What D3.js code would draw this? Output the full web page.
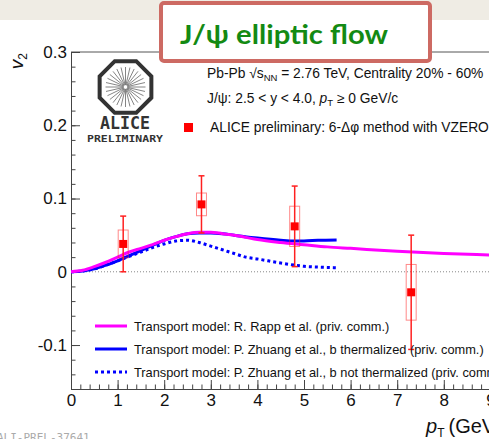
<!DOCTYPE html>
<html>
<head>
<meta charset="utf-8">
<script src="https://cdn.jsdelivr.net/npm/d3@7"></script>
<style>
  html, body { margin: 0; padding: 0; background: #fff; }
  svg { display: block; }
  text { font-family: "Liberation Sans", Arial, Helvetica, sans-serif; }
</style>
</head>
<body>
<svg id="chart" width="489" height="439"></svg>
<script>
// ALICE J/psi v2 measurement (6-delta-phi method), pT in GeV/c
const ptData   = [1.12, 2.80, 4.80, 7.30];
const v2Data   = [0.038, 0.092, 0.062, -0.028];
const statErr  = [0.038, 0.039, 0.055, 0.078];
const sysErr   = [0.019, 0.0155, 0.0275, 0.038];

// Transport model: R. Rapp et al.
const rappPt = [0, 0.25, 0.5, 0.75, 1.0, 1.25, 1.5, 1.75, 2.0, 2.25, 2.5, 2.75, 3.0, 3.25, 3.5, 3.75, 4.0, 4.5, 5.0, 5.5, 6.0, 7.0, 8.0, 9.0, 10.0];
const rappV2 = [0, 0.002, 0.007, 0.013, 0.020, 0.027, 0.032, 0.037, 0.043, 0.048, 0.052, 0.054, 0.054, 0.052, 0.050, 0.047, 0.044, 0.040, 0.037, 0.034, 0.032, 0.028, 0.025, 0.023, 0.021];

// Transport model: P. Zhuang et al., b thermalized
const zhThPt = [0, 0.25, 0.5, 0.75, 1.0, 1.25, 1.5, 1.75, 2.0, 2.25, 2.5, 2.75, 3.0, 3.25, 3.5, 4.0, 4.5, 4.8, 5.0, 5.3, 5.7];
const zhThV2 = [0, 0.001, 0.004, 0.009, 0.015, 0.022, 0.029, 0.036, 0.043, 0.048, 0.052, 0.053, 0.053, 0.052, 0.050, 0.046, 0.043, 0.042, 0.042, 0.043, 0.0435];

// Transport model: P. Zhuang et al., b not thermalized
const zhNtPt = [0, 0.25, 0.5, 0.75, 1.0, 1.25, 1.5, 1.75, 2.0, 2.25, 2.5, 2.75, 3.0, 3.25, 3.5, 3.75, 4.0, 4.5, 5.0, 5.5, 5.7];
const zhNtV2 = [0, 0.001, 0.004, 0.009, 0.015, 0.021, 0.027, 0.033, 0.038, 0.042, 0.043, 0.040, 0.035, 0.030, 0.025, 0.020, 0.0175, 0.012, 0.0075, 0.006, 0.0055];

// Axis ticks
const xMajor = [0, 1, 2, 3, 4, 5, 6, 7, 8, 9, 10];
const xLabels = ["0", "1", "2", "3", "4", "5", "6", "7", "8", "9", "10"];
const yMajor = [-0.1, 0, 0.1, 0.2, 0.3];
const yLabels = ["-0.1", "0", "0.1", "0.2", "0.3"];

const legendLabels = [
  "Transport model: R. Rapp et al. (priv. comm.)",
  "Transport model: P. Zhuang et al., b thermalized (priv. comm.)",
  "Transport model: P. Zhuang et al., b not thermalized (priv. comm.)"
];

const svg = d3.select("#chart");
const plotL = 71, plotT = 52, plotB = 389, plotR = 537;

const x = d3.scaleLinear().domain([0, 10]).range([plotL, plotR]);
const y = d3.scaleLinear().domain([-0.16, 0.3]).range([plotB, plotT]);

// Frame
svg.append("line").attr("x1", plotL).attr("x2", plotR).attr("y1", plotT).attr("y2", plotT)
  .attr("stroke", "#555").attr("stroke-width", 1);

// Zero reference line
svg.append("line").attr("x1", x(0)).attr("x2", x(10)).attr("y1", y(0)).attr("y2", y(0))
  .attr("stroke", "#888").attr("stroke-width", 1).attr("stroke-dasharray", "1,2");

// Axes
const axisColor = "#444";
function styleAxis(g) {
  g.select(".domain").attr("stroke", axisColor).attr("stroke-width", 1);
  g.selectAll(".tick line").attr("stroke", axisColor);
  g.selectAll(".tick text").attr("fill", "#111").style("font-family", "Liberation Sans, Arial, sans-serif");
}

const yMinor = d3.range(-0.16, 0.3001, 0.02).map(v => +v.toFixed(2));
svg.append("g").attr("transform", `translate(${plotL},0)`)
  .call(d3.axisLeft(y).tickValues(yMinor).tickSize(-4.5).tickFormat(""))
  .call(styleAxis);
svg.append("g").attr("transform", `translate(${plotL},0)`)
  .call(d3.axisLeft(y).tickValues(yMajor).tickSize(-9).tickPadding(4)
    .tickFormat((d, i) => yLabels[i]))
  .call(styleAxis)
  .call(g => g.selectAll(".tick text").style("font-size", "17px"));

const xMinor = d3.range(0, 10.001, 0.2).map(v => +v.toFixed(1));
svg.append("g").attr("transform", `translate(0,${plotB})`)
  .call(d3.axisBottom(x).tickValues(xMinor).tickSize(-4.5).tickFormat(""))
  .call(styleAxis);
svg.append("g").attr("transform", `translate(0,${plotB})`)
  .call(d3.axisBottom(x).tickValues(xMajor).tickSize(-9).tickPadding(5)
    .tickFormat((d, i) => xLabels[i]))
  .call(styleAxis)
  .call(g => g.selectAll(".tick text").style("font-size", "17px"));

// Axis titles
const yTitle = svg.append("text")
  .attr("transform", "translate(23,53) rotate(-90)")
  .attr("text-anchor", "end")
  .style("font-size", "19px").attr("fill", "#111");
yTitle.append("tspan").style("font-style", "italic").text("v");
yTitle.append("tspan").attr("baseline-shift", "-30%").style("font-size", "12px").text("2");

const xTitle = svg.append("text").attr("x", 426).attr("y", 433)
  .style("font-size", "20px").attr("fill", "#111");
xTitle.append("tspan").style("font-style", "italic").text("p");
xTitle.append("tspan").attr("baseline-shift", "-35%").style("font-size", "12px").text("T");
xTitle.append("tspan").attr("dx", 4).text("(GeV/c)");

// Model curves
const line = d3.line().x(d => x(d[0])).y(d => y(d[1])).curve(d3.curveMonotoneX);
const zip = (a, b) => a.map((v, i) => [v, b[i]]);

svg.append("path").datum(zip(zhNtPt, zhNtV2)).attr("d", line)
  .attr("fill", "none").attr("stroke", "#0000ff").attr("stroke-width", 3)
  .attr("stroke-dasharray", "3,3");
svg.append("path").datum(zip(zhThPt, zhThV2)).attr("d", line)
  .attr("fill", "none").attr("stroke", "#0000ff").attr("stroke-width", 3);
svg.append("path").datum(zip(rappPt, rappV2)).attr("d", line)
  .attr("fill", "none").attr("stroke", "#ff00ff").attr("stroke-width", 3);

// Data points: systematic boxes, statistical bars, markers
const pts = ptData.map((p, i) => ({ p, v: v2Data[i], s: statErr[i], sys: sysErr[i] }));
const dataG = svg.append("g");
dataG.selectAll("rect.sys").data(pts).join("rect").attr("class", "sys")
  .attr("x", d => x(d.p - 0.107)).attr("width", d => x(d.p + 0.107) - x(d.p - 0.107))
  .attr("y", d => y(d.v + d.sys)).attr("height", d => y(d.v - d.sys) - y(d.v + d.sys))
  .attr("fill", "none").attr("stroke", "rgba(255,40,40,0.55)").attr("stroke-width", 1);
dataG.selectAll("line.stat").data(pts).join("line").attr("class", "stat")
  .attr("x1", d => x(d.p)).attr("x2", d => x(d.p))
  .attr("y1", d => y(d.v + d.s)).attr("y2", d => y(d.v - d.s))
  .attr("stroke", "#ff2020").attr("stroke-width", 1.5);
[1, -1].forEach(sg => {
  dataG.selectAll("line.cap" + (sg > 0 ? "u" : "d")).data(pts).join("line")
    .attr("class", "cap" + (sg > 0 ? "u" : "d"))
    .attr("x1", d => x(d.p) - 3).attr("x2", d => x(d.p) + 3)
    .attr("y1", d => y(d.v + sg * d.s)).attr("y2", d => y(d.v + sg * d.s))
    .attr("stroke", "#ff2020").attr("stroke-width", 1.5);
});
dataG.selectAll("rect.mk").data(pts).join("rect").attr("class", "mk")
  .attr("x", d => x(d.p) - 4).attr("y", d => y(d.v) - 4)
  .attr("width", 8).attr("height", 8).attr("fill", "#ff0000");

// Legend for models
const legColors = ["#ff00ff", "#0000ff", "#0000ff"];
const legDash = [null, null, "3,3"];
legendLabels.forEach((t, i) => {
  const yy = 326 + i * 23;
  svg.append("line").attr("x1", 95).attr("x2", 127).attr("y1", yy).attr("y2", yy)
    .attr("stroke", legColors[i]).attr("stroke-width", 3)
    .attr("stroke-dasharray", legDash[i]);
  svg.append("text").attr("x", 134).attr("y", yy + 4.5)
    .style("font-size", "12.8px").attr("fill", "#111").text(t);
});

// Info text block
const info1 = svg.append("text").attr("x", 207).attr("y", 78)
  .style("font-size", "13.8px").attr("fill", "#111");
info1.append("tspan").text("Pb-Pb √s");
info1.append("tspan").attr("baseline-shift", "-30%").style("font-size", "9.5px").text("NN");
info1.append("tspan").text(" = 2.76 TeV, Centrality 20% - 60%");

const info2 = svg.append("text").attr("x", 207).attr("y", 103)
  .style("font-size", "13.8px").attr("fill", "#111");
info2.append("tspan").text("J/ψ: 2.5 < y < 4.0,  ");
info2.append("tspan").style("font-style", "italic").text("p");
info2.append("tspan").attr("baseline-shift", "-30%").style("font-size", "9.5px").text("T");
info2.append("tspan").text(" ≥ 0 GeV/c");

svg.append("rect").attr("x", 184).attr("y", 123).attr("width", 9).attr("height", 9).attr("fill", "#ff0000");
svg.append("text").attr("x", 210).attr("y", 132)
  .style("font-size", "13.8px").attr("fill", "#111")
  .text("ALICE preliminary: 6-Δφ method with VZERO");

// ALICE logo
const logo = svg.append("g").attr("transform", "translate(125.5,87)");
const oct = d3.range(8).map(k => {
  const a = (k * 45 + 22.5) * Math.PI / 180;
  return [28 * Math.cos(a), 28 * Math.sin(a)];
});
logo.append("polygon").attr("points", oct.map(p => p.join(",")).join(" "))
  .attr("fill", "#fff").attr("stroke", "#333").attr("stroke-width", 4);
d3.range(28).forEach(k => {
  const a = k * Math.PI * 2 / 28;
  logo.append("line")
    .attr("x1", 2 * Math.cos(a)).attr("y1", 2 * Math.sin(a))
    .attr("x2", 20 * Math.cos(a)).attr("y2", 20 * Math.sin(a))
    .attr("stroke", "#777").attr("stroke-width", 0.9);
});
svg.append("text").attr("x", 100).attr("y", 128.5)
  .attr("textLength", 50).attr("lengthAdjust", "spacingAndGlyphs")
  .style("font-family", "DejaVu Sans Mono, monospace").style("font-weight", "bold")
  .style("font-size", "17px").attr("fill", "#333").text("ALICE");
svg.append("text").attr("x", 87).attr("y", 142)
  .attr("textLength", 76).attr("lengthAdjust", "spacingAndGlyphs")
  .style("font-family", "DejaVu Sans Mono, monospace").style("font-weight", "bold")
  .style("font-size", "9px").attr("fill", "#333").text("PRELIMINARY");

// Slide banner with title box
svg.insert("rect", ":first-child").attr("x", 0).attr("y", 0).attr("width", 489).attr("height", 20)
  .attr("fill", "#efece4");
svg.append("rect").attr("x", 161).attr("y", 3).attr("width", 269).attr("height", 58)
  .attr("rx", 3).attr("fill", "#fff").attr("stroke", "#cd6a63").attr("stroke-width", 4);
svg.append("text").attr("x", 180).attr("y", 44)
  .attr("textLength", 208).attr("lengthAdjust", "spacingAndGlyphs")
  .style("font-family", "Lato, 'Open Sans', sans-serif").style("font-weight", "bold")
  .style("font-size", "27px").attr("fill", "#138a13").text("J/ψ elliptic flow");

// Figure ID
svg.append("text").attr("x", -3).attr("y", 441)
  .style("font-family", "DejaVu Sans Mono, monospace")
  .style("font-size", "11px").attr("fill", "#aaa").text("ALI-PREL-37641");
</script>
</body>
</html>
